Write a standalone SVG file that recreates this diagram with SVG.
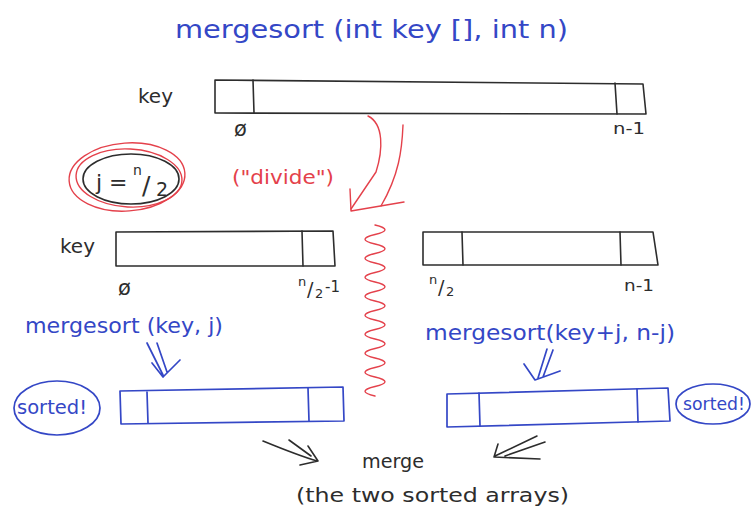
<svg xmlns="http://www.w3.org/2000/svg" width="752" height="517" viewBox="0 0 752 517">
<style>
text{font-family:"DejaVu Sans","Liberation Sans",sans-serif;}
.blk{fill:#2d2d2d;}
.blu{fill:#3447c6;}
.red{fill:#e4414b;}
.sb{fill:none;stroke:#2d2d2d;stroke-width:1.6;stroke-linejoin:round;stroke-linecap:round;}
.su{fill:none;stroke:#3447c6;stroke-width:1.7;stroke-linejoin:round;stroke-linecap:round;}
.sr{fill:none;stroke:#e4414b;stroke-width:1.4;stroke-linejoin:round;stroke-linecap:round;}
</style>
<rect width="752" height="517" fill="#ffffff"/>

<g id="title">
<text class="blu" x="175" y="38" font-size="24" textLength="393" lengthAdjust="spacingAndGlyphs">mergesort (int key [], int n)</text>
</g>

<g id="top-array">
<text class="blk" x="138" y="103" font-size="20">key</text>
<path class="sb" d="M215,80 L643,84 L646,114 L215,113 Z"/>
<path class="sb" d="M253,80 L254,113 M615,83 L617,114"/>
<text class="blk" x="234" y="136" font-size="21">ø</text>
<text class="blk" x="613" y="134" font-size="15" textLength="32" lengthAdjust="spacingAndGlyphs">n-1</text>
</g>

<g id="j-half">
<ellipse class="sr" cx="127" cy="177" rx="58" ry="34" transform="rotate(-4 127 177)"/>
<ellipse class="sr" cx="129" cy="178" rx="53" ry="29" transform="rotate(3 129 178)"/>
<ellipse class="sb" cx="131" cy="179" rx="48" ry="25"/>
<text class="blk" x="96" y="190" font-size="22">j =<tspan x="133" y="175" font-size="14">n</tspan><tspan x="142" y="194" font-size="25">/</tspan><tspan x="156" y="196" font-size="19">2</tspan></text>
</g>

<g id="divide-label">
<text class="red" x="232" y="184" font-size="20" textLength="102" lengthAdjust="spacingAndGlyphs">("divide")</text>
</g>

<g id="left-half">
<text class="blk" x="60" y="253" font-size="20">key</text>
<path class="sb" d="M116,232 L333,231 L335,266 L116,266 Z"/>
<path class="sb" d="M302,231 L303,266"/>
<text class="blk" x="118" y="295" font-size="21">ø</text>
<text class="blk" x="298" y="286" font-size="13">n<tspan x="307" y="296" font-size="19">/</tspan><tspan x="315" y="298" font-size="13">2</tspan><tspan x="325" y="292" font-size="15">-1</tspan></text>
</g>

<g id="right-half">
<path class="sb" d="M423,232 L653,232 L658,265 L423,265 Z"/>
<path class="sb" d="M462,232 L463,265 M620,232 L621,265"/>
<text class="blk" x="429" y="284" font-size="13">n<tspan x="438" y="294" font-size="19">/</tspan><tspan x="446" y="296" font-size="13">2</tspan></text>
<text class="blk" x="624" y="291" font-size="15" textLength="30" lengthAdjust="spacingAndGlyphs">n-1</text>
</g>

<g id="sort-left">
<text class="blu" x="25" y="333" font-size="22" textLength="198" lengthAdjust="spacingAndGlyphs">mergesort (key, j)</text>
<path class="su" d="M120,391 L343,387 L344,421 L121,424 Z"/>
<path class="su" d="M147,392 L148,423 M308,388 L309,421"/>
<ellipse class="su" cx="57" cy="408" rx="43" ry="27"/>
<text class="blu" x="17" y="414" font-size="19" textLength="70" lengthAdjust="spacingAndGlyphs">sorted!</text>
</g>

<g id="sort-right">
<text class="blu" x="425" y="340" font-size="22" textLength="250" lengthAdjust="spacingAndGlyphs">mergesort(key+j, n-j)</text>
<path class="su" d="M447,394 L668,388 L670,421 L447,427 Z"/>
<path class="su" d="M479,393 L480,426 M637,389 L638,422"/>
<ellipse class="su" cx="713" cy="404" rx="37" ry="20"/>
<text class="blu" x="683" y="410" font-size="17" textLength="62" lengthAdjust="spacingAndGlyphs">sorted!</text>
</g>

<g id="merge">
<text class="blk" x="362" y="468" font-size="20" textLength="62" lengthAdjust="spacingAndGlyphs">merge</text>
<text class="blk" x="296" y="502" font-size="20" textLength="273" lengthAdjust="spacingAndGlyphs">(the two sorted arrays)</text>
</g>

<g id="connectors">
<path class="sr" d="M368,116 C384,124 383,150 376,172 L351,209"/>
<path class="sr" d="M403,125 C402,150 399,175 381,206"/>
<path class="sr" d="M350,189 L351,211 L404,202"/>
<path class="sr" d="M375,225 Q395,229.75 375,234.5 T375,244 T375,253.5 T375,263 T375,272.5 T375,282 T375,291.5 T375,301 T375,310.5 T375,320 T375,329.5 T375,339 T375,348.5 T375,358 T375,367.5 T375,377 T375,386.5 T375,396"/>
<path class="su" d="M147,343 L163,375 M157,343 L167,372 M152,363 L163,377 L180,360"/>
<path class="su" d="M547,349 L538,378 M553,350 L543,377 M524,364 L535,380 L560,371"/>
<path class="sb" d="M263,441 C285,450 300,456 317,461 M289,440 L311,456 M308,446 L318,461 L300,465"/>
<path class="sb" d="M537,436 L495,456 M545,442 L505,456 M498,444 L494,457 L540,459"/>
</g>
</svg>
